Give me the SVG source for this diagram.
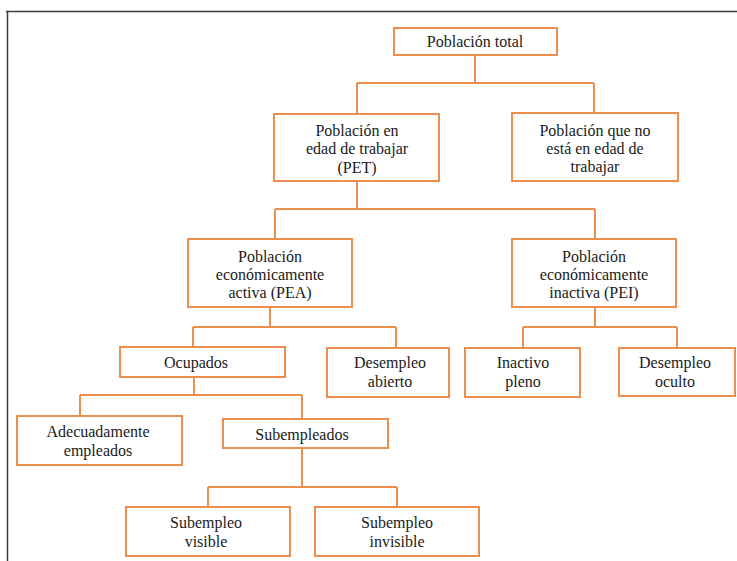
<svg xmlns="http://www.w3.org/2000/svg" width="737" height="561" viewBox="0 0 737 561">
<rect width="737" height="561" fill="#fff"/>
<path fill="none" stroke="#3a3a3a" stroke-width="1.5" d="M6,11.5H737M7.5,11V561"/>
<g id="connectors" fill="none" stroke="#EC8E4E" stroke-width="2">
<path d="M475,55V83M357,83H594M357,83V114M594,83V113"/>
<path d="M357,181V209M275,209H595M275,209V239M595,209V239"/>
<path d="M270,307V327M193,327H396M193,327V347M396,327V348"/>
<path d="M595,307V327M523,327H677M523,327V348M677,327V348"/>
<path d="M194,377V395M80,395H302M80,395V416M302,395V419"/>
<path d="M302,448V487M208,487H397M208,487V507M397,487V507"/>
</g>
<g id="nodes">
<g id="boxes" fill="#fff" stroke="#EC8E4E" stroke-width="2">
<rect id="total-box" x="394" y="28" width="163" height="27"/>
<rect id="pet-box" x="274" y="114" width="165" height="67"/>
<rect id="nopet-box" x="512" y="113" width="166" height="68"/>
<rect id="pea-box" x="188" y="239" width="164" height="68"/>
<rect id="pei-box" x="512" y="239" width="164" height="68"/>
<rect id="ocupados-box" x="120" y="347" width="165" height="30"/>
<rect id="abierto-box" x="327" y="348" width="122" height="49"/>
<rect id="inactivo-box" x="465" y="348" width="115" height="49"/>
<rect id="oculto-box" x="619" y="348" width="116" height="48"/>
<rect id="adecuados-box" x="17" y="416" width="165" height="49"/>
<rect id="subempleados-box" x="223" y="419" width="165" height="29"/>
<rect id="visible-box" x="126" y="507" width="164" height="49"/>
<rect id="invisible-box" x="315" y="507" width="164" height="49"/>
</g>
<g id="labels" font-size="16" fill="#1a1a1a" text-anchor="middle">
<text font-family="Liberation Serif" x="475" y="47">Población total</text>
<text font-family="Liberation Serif" x="357" y="136">Población en</text>
<text font-family="Liberation Serif" x="357" y="154">edad de trabajar</text>
<text font-family="Liberation Serif" x="357" y="173">(PET)</text>
<text font-family="Liberation Serif" x="595" y="136">Población que no</text>
<text font-family="Liberation Serif" x="595" y="154">está en edad de</text>
<text font-family="Liberation Serif" x="595" y="172">trabajar</text>
<text font-family="Liberation Serif" x="270" y="262">Población</text>
<text font-family="Liberation Serif" x="270" y="280">económicamente</text>
<text font-family="Liberation Serif" x="270" y="298">activa (PEA)</text>
<text font-family="Liberation Serif" x="594" y="262">Población</text>
<text font-family="Liberation Serif" x="594" y="280">económicamente</text>
<text font-family="Liberation Serif" x="594" y="298">inactiva (PEI)</text>
<text font-family="Liberation Serif" x="196" y="368">Ocupados</text>
<text font-family="Liberation Serif" x="390" y="368">Desempleo</text>
<text font-family="Liberation Serif" x="390" y="387">abierto</text>
<text font-family="Liberation Serif" x="523" y="368">Inactivo</text>
<text font-family="Liberation Serif" x="523" y="387">pleno</text>
<text font-family="Liberation Serif" x="675" y="368">Desempleo</text>
<text font-family="Liberation Serif" x="675" y="387">oculto</text>
<text font-family="Liberation Serif" x="98" y="437">Adecuadamente</text>
<text font-family="Liberation Serif" x="98" y="456">empleados</text>
<text font-family="Liberation Serif" x="302" y="440">Subempleados</text>
<text font-family="Liberation Serif" x="206" y="528">Subempleo</text>
<text font-family="Liberation Serif" x="206" y="547">visible</text>
<text font-family="Liberation Serif" x="397" y="528">Subempleo</text>
<text font-family="Liberation Serif" x="397" y="547">invisible</text>
</g>
</g>
</svg>
